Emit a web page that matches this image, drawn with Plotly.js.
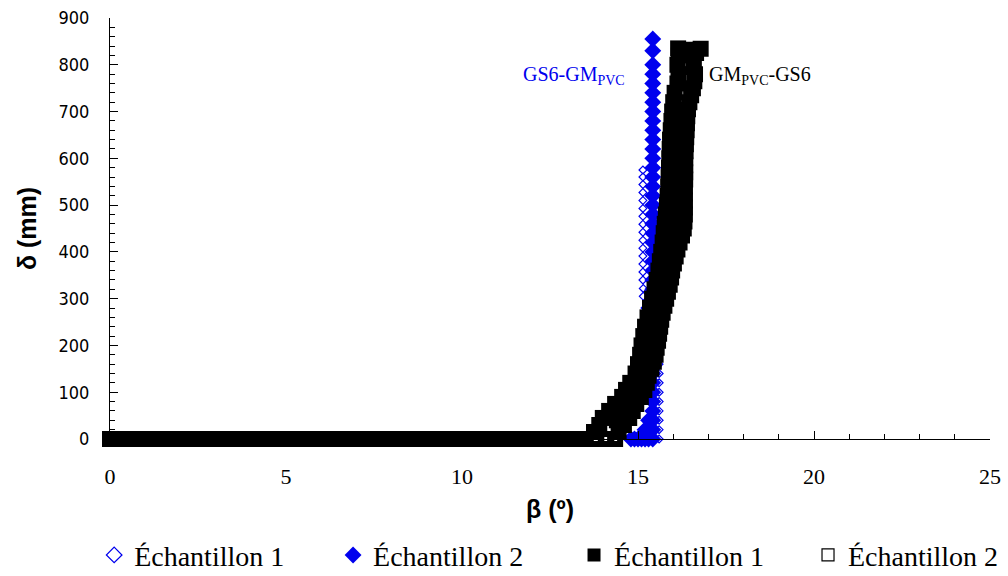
<!DOCTYPE html>
<html>
<head>
<meta charset="utf-8">
<script src="https://cdn.plot.ly/plotly-3.0.1.min.js"></script>
<style>html,body{margin:0;padding:0;background:#fff;}#chart{width:1008px;height:576px;}</style>
</head>
<body>
<div id="chart"></div>
<script>
// GS6-GMPVC, Échantillon 1 (open blue diamonds)
var blue1X = [15.6,15.6,15.6,15.6,15.6,15.6,15.6,15.6,15.6,15.55,15.5,15.45,15.4,15.3,15.2,15.15,15.15,15.14,15.14,15.14,15.14,15.14,15.14,15.14,15.14,15.14,15.14,15.14,15.14,15.14,15.14,15.14];
var blue1Y = [0,20,40,60,80,100,120,140,160,180,200,220,240,260,280,305,322,340,357,374,391,408,425,442,459,476,493,510,527,544,560,575];
// GS6-GMPVC, Échantillon 2 (filled blue diamonds)
var blue2X = [14.8,14.9,15.0,15.1,15.2,15.3,15.2,15.3,15.42,15.42,15.42,15.42,15.42,15.42,15.42,15.42,15.42,15.42,15.42,15.42,15.42,15.42,15.42,15.42,15.42,15.42,15.42,15.42,15.42,15.42,15.42,15.42,15.42,15.42,15.42,15.42,15.42,15.42,15.42,15.42,15.42,15.42,15.42,15.42,15.42,15.42,15.42,15.42,15.42,15.42,15.42];
var blue2Y = [0,0,0,0,0,0,20,40,0,20,40,60,80,100,120,140,160,180,200,220,240,260,280,300,320,340,360,380,400,420,440,460,480,500,520,540,560,580,600,620,640,660,680,700,720,740,760,780,800,830,855];
// GMPVC-GS6, Échantillon 1 (filled black squares)
var black1X = [0,0.3,0.6,0.9,1.2,1.5,1.8,2.1,2.4,2.7,3.0,3.3,3.6,3.9,4.2,4.5,4.8,5.1,5.4,5.7,6.0,6.3,6.6,6.9,7.2,7.5,7.8,8.1,8.4,8.7,9.0,9.3,9.6,9.9,10.2,10.5,10.8,11.1,11.4,11.7,12.0,12.3,12.6,12.9,13.2,13.5,
  13.75,13.9,14.0,14.18,14.35,14.55,14.66,14.78,14.93,15.0,15.06,15.1,15.15,15.2,15.27,15.34,15.4,15.47,15.53,15.58,15.62,15.66,15.7,15.73,15.76,15.79,15.82,15.84,15.86,15.87,15.88,15.89,15.9,15.91,15.93,15.95,15.97,16.0,16.04,16.12,16.15,16.12,16.16,16.14,
  14.4,14.5,14.65,14.8,14.95,16.0,16.05,16.1,16.1,16.1,16.12,16.12,16.12,16.12,16.13,16.14,16.15,16.16,16.18,16.2];
var black1Y = [0,0,0,0,0,0,0,0,0,0,0,0,0,0,0,0,0,0,0,0,0,0,0,0,0,0,0,0,0,0,0,0,0,0,0,0,0,0,0,0,0,0,0,0,0,0,
  15,30,45,60,75,90,105,120,140,160,180,200,220,240,260,280,300,320,340,360,380,400,420,440,460,480,500,520,540,560,580,600,620,640,660,680,700,720,740,760,780,800,820,835,
  40,60,80,100,120,420,440,460,480,500,520,540,560,580,600,620,640,660,680,700];
// GMPVC-GS6, Échantillon 2 (open black squares)
var black2X = [13.8,14.1,14.35,14.45,14.6,14.75,14.85,14.95,15.08,15.18,15.25,15.3,15.38,15.45,15.5,15.53,15.57,15.6,15.63,15.66,15.7,15.75,15.8,15.85,15.9,15.94,15.97,16.02,16.07,16.12,16.18,16.25,16.3,16.32,16.33,16.33,16.33,16.33,16.33,16.34,16.34,16.34,16.34,16.35,16.36,16.37,16.38,16.39,16.4,16.42,16.46,16.51,16.56,16.6,16.62,16.58,16.58,16.65,16.78,16.55];
var black2Y = [0,0,0,15,30,45,60,75,90,105,120,135,150,165,180,195,210,225,240,255,270,285,300,315,330,345,360,375,390,405,420,435,450,465,480,495,510,525,540,555,570,585,600,615,630,645,660,675,690,705,720,735,750,765,780,795,810,825,834,832];

var xTickVals = [0,5,10,15,20,25];
var yTickVals = [0,100,200,300,400,500,600,700,800,900];
var legendNames = ['Échantillon 1','Échantillon 2','Échantillon 1','Échantillon 2'];
var leftLabel = 'GS6-GM<sub>PVC</sub>';
var rightLabel = 'GM<sub>PVC</sub>-GS6';

var BLUE = '#0000ee';
var traces = [
  {x: blue1X, y: blue1Y, showlegend: false, mode: 'markers', type: 'scatter', cliponaxis: false,
   marker: {symbol: 'diamond-open', size: 6, color: BLUE, line: {width: 1.2, color: BLUE}}},
  {x: blue2X, y: blue2Y, showlegend: false, mode: 'markers', type: 'scatter', cliponaxis: false,
   marker: {symbol: 'diamond', size: 13, color: BLUE}},
  {x: black1X, y: black1Y, showlegend: false, mode: 'markers', type: 'scatter', cliponaxis: false,
   marker: {symbol: 'square', size: 16, color: '#000000'}},
  {x: black2X, y: black2Y, showlegend: false, mode: 'markers', type: 'scatter', cliponaxis: false,
   marker: {symbol: 'square-open', size: 10, color: '#000000', line: {width: 6, color: '#000000'}}},
  // legend entries
  {x: [null], y: [null], name: legendNames[0], legend: 'legend', mode: 'markers', type: 'scatter',
   marker: {symbol: 'diamond-open', size: 12, color: BLUE, line: {width: 1.2, color: BLUE}}},
  {x: [null], y: [null], name: legendNames[1], legend: 'legend2', mode: 'markers', type: 'scatter',
   marker: {symbol: 'diamond', size: 13, color: BLUE}},
  {x: [null], y: [null], name: legendNames[2], legend: 'legend3', mode: 'markers', type: 'scatter',
   marker: {symbol: 'square', size: 13, color: '#000000'}},
  {x: [null], y: [null], name: legendNames[3], legend: 'legend4', mode: 'markers', type: 'scatter',
   marker: {symbol: 'square-open', size: 12, color: '#000000', line: {width: 1.2, color: '#000000'}}}
];

var yTickFont = {family: '"DejaVu Sans Condensed", "Liberation Sans Narrow", Arial, sans-serif', size: 18, color: '#000'};
var xTickFont = {family: '"Liberation Serif", "Times New Roman", serif', size: 22, color: '#000'};
var legFont = {family: '"Liberation Serif", "Times New Roman", serif', size: 28, color: '#000'};
function leg(xp) {
  return {orientation: 'h', x: xp, xanchor: 'left', y: 0.036, yref: 'container', yanchor: 'middle',
          bgcolor: 'rgba(0,0,0,0)', borderwidth: 0, font: legFont};
}

var layout = {
  width: 1008, height: 576,
  paper_bgcolor: '#fff', plot_bgcolor: '#fff',
  margin: {l: 110, r: 18, t: 18, b: 137},
  showlegend: true,
  legend: leg(-0.018), legend2: leg(0.2535), legend3: leg(0.5273), legend4: leg(0.7932),
  xaxis: {range: [0, 25], tickvals: xTickVals, ticktext: xTickVals.map(String),
          showgrid: false, zeroline: false, showline: true, linecolor: '#000', linewidth: 1,
          ticks: 'inside', ticklen: 8, tickcolor: '#000', tickwidth: 1,
          minor: {dtick: 1, ticks: 'inside', ticklen: 5, tickcolor: '#000', showgrid: false},
          ticklabelstandoff: 18, tickfont: xTickFont,
          title: {text: 'β (º)', standoff: 12, font: {family: 'Liberation Sans, Arial, sans-serif', size: 25, color: '#000', weight: 'bold'}},
          automargin: false},
  yaxis: {range: [0, 900], tickvals: yTickVals, ticktext: yTickVals.map(String),
          showgrid: false, zeroline: false, showline: true, linecolor: '#000', linewidth: 1,
          ticks: 'inside', ticklen: 8, tickcolor: '#000', tickwidth: 1,
          minor: {dtick: 20, ticks: 'inside', ticklen: 5, tickcolor: '#000', showgrid: false},
          ticklabelstandoff: 16, tickfont: yTickFont,
          title: {text: 'δ (mm)', standoff: 14, font: {family: 'Liberation Sans, Arial, sans-serif', size: 25, color: '#000', weight: 'bold'}},
          automargin: false},
  annotations: [
    {x: 14.7, y: 778, xref: 'x', yref: 'y', text: leftLabel, showarrow: false, xanchor: 'right', yanchor: 'middle',
     font: {family: '"Liberation Serif", "Times New Roman", serif', size: 20, color: BLUE}},
    {x: 16.95, y: 778, xref: 'x', yref: 'y', text: rightLabel, showarrow: false, xanchor: 'left', yanchor: 'middle',
     font: {family: '"Liberation Serif", "Times New Roman", serif', size: 20, color: '#000'}}
  ]
};

Plotly.newPlot('chart', traces, layout, {displayModeBar: false, staticPlot: true});
</script>
</body>
</html>
